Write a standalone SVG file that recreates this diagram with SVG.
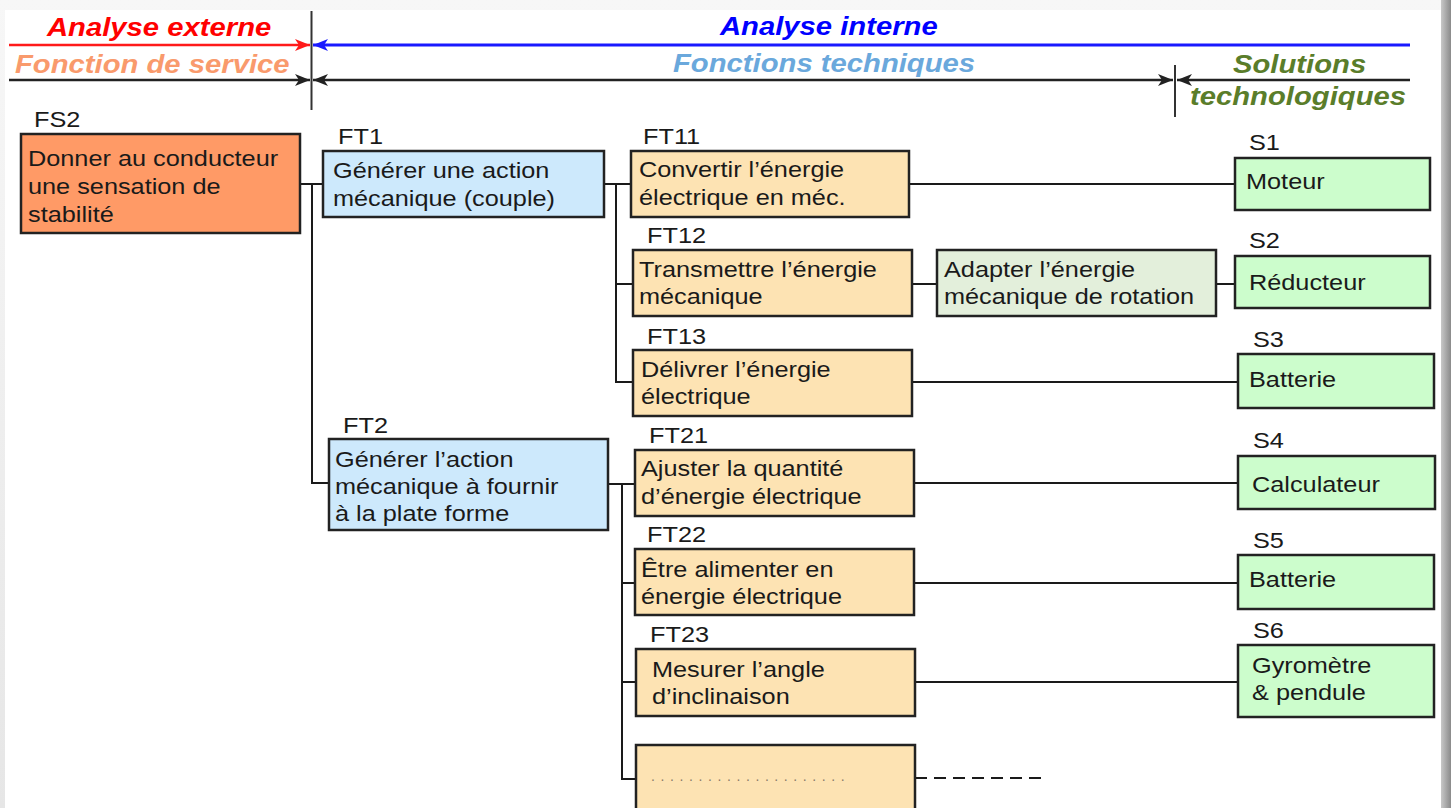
<svg xmlns="http://www.w3.org/2000/svg" width="1451" height="808" viewBox="0 0 1451 808">
<defs>
<linearGradient id="shR" x1="0" y1="0" x2="1" y2="0"><stop offset="0" stop-color="#c8c8c8"/><stop offset="1" stop-color="#8a8a8a"/></linearGradient>
<linearGradient id="shT" x1="0" y1="0" x2="0" y2="1"><stop offset="0" stop-color="#f7f7f7"/><stop offset="1" stop-color="#e6e6e6"/></linearGradient>
<marker id="aR" viewBox="0 0 15 12" refX="15" refY="6" markerWidth="15" markerHeight="12" markerUnits="userSpaceOnUse" orient="auto-start-reverse"><path d="M0,0 L15,6 L0,12 L4,6 z" fill="#ff1a1a"/></marker>
<marker id="aB" viewBox="0 0 15 12" refX="15" refY="6" markerWidth="15" markerHeight="12" markerUnits="userSpaceOnUse" orient="auto-start-reverse"><path d="M0,0 L15,6 L0,12 L4,6 z" fill="#1a1aff"/></marker>
<marker id="aK" viewBox="0 0 15 12" refX="15" refY="6" markerWidth="15" markerHeight="12" markerUnits="userSpaceOnUse" orient="auto-start-reverse"><path d="M0,0 L15,6 L0,12 L4,6 z" fill="#222"/></marker>
</defs>
<style>
.t{font-family:"Liberation Sans",Arial,sans-serif;font-size:22px;fill:#1a1a1a}
.d{font-family:"Liberation Sans",Arial,sans-serif;font-size:14px;letter-spacing:5.6px;fill:#8a7a6a}
.h{font-family:"Liberation Sans",Arial,sans-serif;font-size:26px;font-weight:bold;font-style:italic}
.box{stroke:#222;stroke-width:2.5}
.fs{fill:#ff9a66}
.ft{fill:#cde9fc}
.fo{fill:#fde3b3}
.fa{fill:#e3efdb}
.s{fill:#ccfdcc}
.c{stroke:#1a1a1a;stroke-width:2;fill:none}
</style>
<rect x="0" y="0" width="1451" height="808" fill="url(#shT)"/>
<rect x="1441" y="0" width="10" height="808" fill="url(#shR)"/>
<rect x="5" y="10" width="1436" height="798" fill="#ffffff"/>

<g id="header">
<line x1="9" y1="45" x2="310" y2="45" stroke="#ff1a1a" stroke-width="2.5" marker-end="url(#aR)"/>
<line x1="313" y1="45" x2="1410" y2="45" stroke="#1a1aff" stroke-width="3" marker-start="url(#aB)"/>
<line x1="9" y1="80" x2="310" y2="80" stroke="#222" stroke-width="2.5" marker-end="url(#aK)"/>
<line x1="313" y1="80" x2="1173" y2="80" stroke="#222" stroke-width="2.5" marker-start="url(#aK)" marker-end="url(#aK)"/>
<line x1="1177" y1="80" x2="1410" y2="80" stroke="#222" stroke-width="2.5" marker-start="url(#aK)"/>
<line x1="311.5" y1="11" x2="311.5" y2="110" stroke="#333" stroke-width="2"/>
<line x1="1175" y1="65" x2="1175" y2="117" stroke="#333" stroke-width="2"/>
<text class="h" fill="#ff0000" transform="translate(47,36) scale(1.125,1)">Analyse externe</text>
<text class="h" fill="#f99a6c" transform="translate(15,73) scale(1.125,1)">Fonction de service</text>
<text class="h" fill="#0000ff" transform="translate(720,35) scale(1.125,1)">Analyse interne</text>
<text class="h" fill="#6aa8dc" transform="translate(673,72) scale(1.125,1)">Fonctions techniques</text>
<text class="h" fill="#5a7d2a" transform="translate(1233,73) scale(1.125,1)">Solutions</text>
<text class="h" fill="#5a7d2a" transform="translate(1190,105) scale(1.125,1)">technologiques</text>
</g>

<g id="connectors">
<path class="c" d="M300,184 H323 M312,184 V483 H329"/>
<path class="c" d="M604,184 H631 M616,184 V382 H633 M616,284 H633"/>
<path class="c" d="M909,184 H1235"/>
<path class="c" d="M912,284 H937 M1216,284 H1235"/>
<path class="c" d="M912,382 H1238"/>
<path class="c" d="M608,484 H635 M622,484 V779 H636 M622,583 H635 M622,682 H636"/>
<path class="c" d="M914,483 H1238"/>
<path class="c" d="M914,583 H1238"/>
<path class="c" d="M915,682 H1238"/>
<path class="c" d="M915,778 H1042" stroke-dasharray="12 7"/>
</g>

<g id="FS2">
<text class="t" transform="translate(34,127) scale(1.15,1)">FS2</text>
<rect class="box fs" x="21" y="134" width="279" height="99"/>
<text class="t" transform="translate(28,166) scale(1.15,1)"><tspan x="0" y="0">Donner au conducteur</tspan><tspan x="0" y="28">une sensation de</tspan><tspan x="0" y="56">stabilité</tspan></text>
</g>
<g id="FT1">
<text class="t" transform="translate(338,144) scale(1.15,1)">FT1</text>
<rect class="box ft" x="323" y="151" width="281" height="66"/>
<text class="t" transform="translate(333,178) scale(1.15,1)"><tspan x="0" y="0">Générer une action</tspan><tspan x="0" y="28">mécanique (couple)</tspan></text>
</g>
<g id="FT11">
<text class="t" transform="translate(643,144) scale(1.15,1)">FT11</text>
<rect class="box fo" x="631" y="151" width="278" height="66"/>
<text class="t" transform="translate(639,177) scale(1.15,1)"><tspan x="0" y="0">Convertir l’énergie</tspan><tspan x="0" y="28">électrique en méc.</tspan></text>
</g>
<g id="FT12">
<text class="t" transform="translate(647,243) scale(1.15,1)">FT12</text>
<rect class="box fo" x="633" y="250" width="279" height="66"/>
<text class="t" transform="translate(639,277) scale(1.15,1)"><tspan x="0" y="0">Transmettre l’énergie</tspan><tspan x="0" y="27">mécanique</tspan></text>
</g>
<g id="FT12b">
<rect class="box fa" x="937" y="250" width="279" height="66"/>
<text class="t" transform="translate(944,277) scale(1.15,1)"><tspan x="0" y="0">Adapter l’énergie</tspan><tspan x="0" y="27">mécanique de rotation</tspan></text>
</g>
<g id="FT13">
<text class="t" transform="translate(647,344) scale(1.15,1)">FT13</text>
<rect class="box fo" x="633" y="350" width="279" height="66"/>
<text class="t" transform="translate(641,377) scale(1.15,1)"><tspan x="0" y="0">Délivrer l’énergie</tspan><tspan x="0" y="27">électrique</tspan></text>
</g>
<g id="FT2">
<text class="t" transform="translate(343,433) scale(1.15,1)">FT2</text>
<rect class="box ft" x="329" y="439" width="279" height="91"/>
<text class="t" transform="translate(335,467) scale(1.15,1)"><tspan x="0" y="0">Générer l’action</tspan><tspan x="0" y="27">mécanique à fournir</tspan><tspan x="0" y="54">à la plate forme</tspan></text>
</g>
<g id="FT21">
<text class="t" transform="translate(649,443) scale(1.15,1)">FT21</text>
<rect class="box fo" x="635" y="450" width="279" height="66"/>
<text class="t" transform="translate(641,476) scale(1.15,1)"><tspan x="0" y="0">Ajuster la quantité</tspan><tspan x="0" y="28">d’énergie électrique</tspan></text>
</g>
<g id="FT22">
<text class="t" transform="translate(647,542) scale(1.15,1)">FT22</text>
<rect class="box fo" x="635" y="549" width="279" height="66"/>
<text class="t" transform="translate(641,577) scale(1.15,1)"><tspan x="0" y="0">Être alimenter en</tspan><tspan x="0" y="27">énergie électrique</tspan></text>
</g>
<g id="FT23">
<text class="t" transform="translate(650,642) scale(1.15,1)">FT23</text>
<rect class="box fo" x="636" y="649" width="279" height="67"/>
<text class="t" transform="translate(652,677) scale(1.15,1)"><tspan x="0" y="0">Mesurer l’angle</tspan><tspan x="0" y="27">d’inclinaison</tspan></text>
</g>
<g id="FT24">
<rect class="box fo" x="636" y="745" width="279" height="70"/>
<text class="d" transform="translate(651,781)">.....................</text>
</g>
<g id="S1">
<text class="t" transform="translate(1249,150) scale(1.15,1)">S1</text>
<rect class="box s" x="1235" y="158" width="195" height="52"/>
<text class="t" transform="translate(1246,189) scale(1.15,1)">Moteur</text>
</g>
<g id="S2">
<text class="t" transform="translate(1249,248) scale(1.15,1)">S2</text>
<rect class="box s" x="1235" y="256" width="195" height="52"/>
<text class="t" transform="translate(1249,290) scale(1.15,1)">Réducteur</text>
</g>
<g id="S3">
<text class="t" transform="translate(1253,347) scale(1.15,1)">S3</text>
<rect class="box s" x="1238" y="354" width="196" height="54"/>
<text class="t" transform="translate(1249,387) scale(1.15,1)">Batterie</text>
</g>
<g id="S4">
<text class="t" transform="translate(1253,448) scale(1.15,1)">S4</text>
<rect class="box s" x="1238" y="456" width="197" height="53"/>
<text class="t" transform="translate(1252,492) scale(1.15,1)">Calculateur</text>
</g>
<g id="S5">
<text class="t" transform="translate(1253,548) scale(1.15,1)">S5</text>
<rect class="box s" x="1238" y="555" width="196" height="54"/>
<text class="t" transform="translate(1249,587) scale(1.15,1)">Batterie</text>
</g>
<g id="S6">
<text class="t" transform="translate(1253,638) scale(1.15,1)">S6</text>
<rect class="box s" x="1238" y="645" width="196" height="72"/>
<text class="t" transform="translate(1252,673) scale(1.15,1)"><tspan x="0" y="0">Gyromètre</tspan><tspan x="0" y="27">&amp; pendule</tspan></text>
</g>
</svg>
